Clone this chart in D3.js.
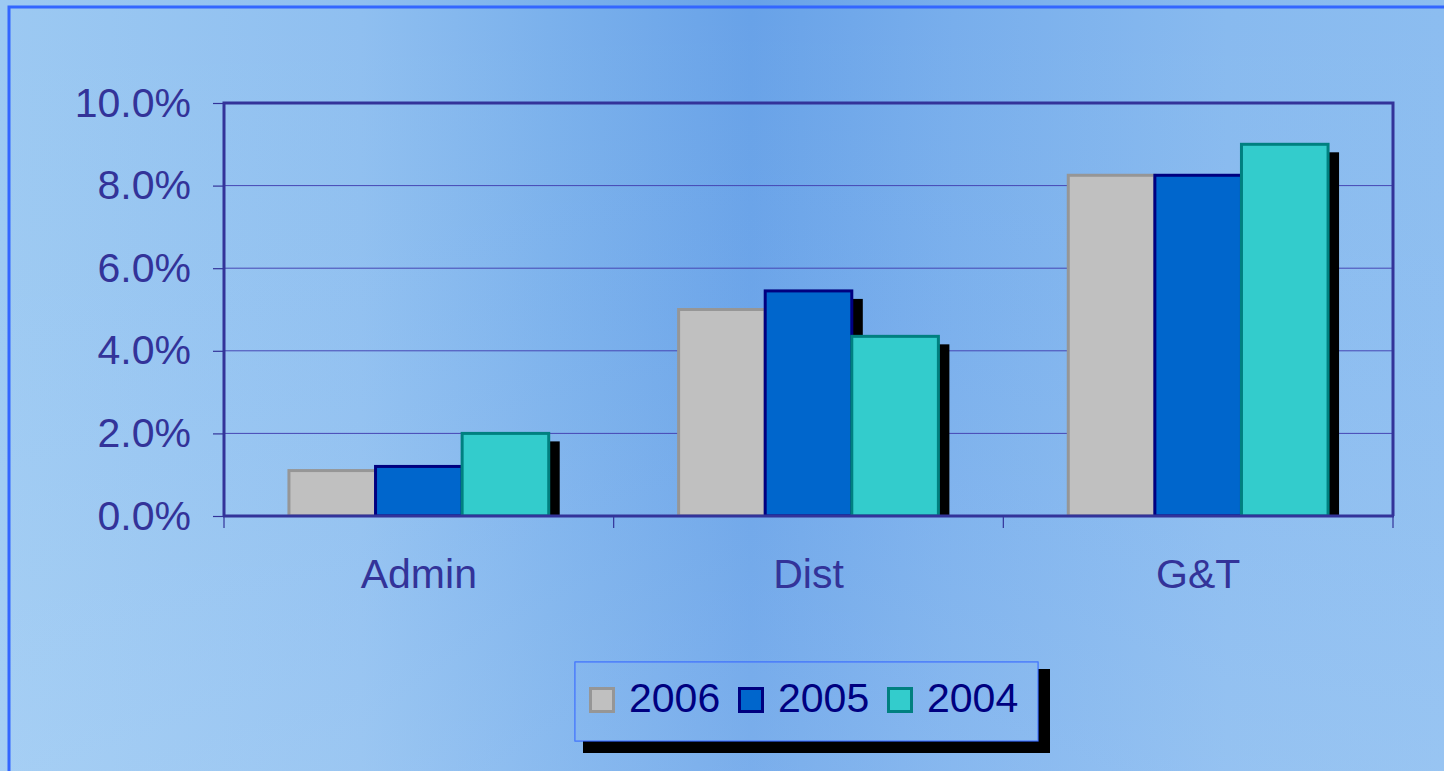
<!DOCTYPE html>
<html>
<head>
<meta charset="utf-8">
<script src="https://cdn.jsdelivr.net/npm/d3@7"></script>
<style>
  html, body { margin: 0; padding: 0; overflow: hidden; }
  svg { display: block; font-family: "Liberation Sans", Arial, sans-serif; }
</style>
</head>
<body>
<svg id="chart" width="1444" height="771"></svg>
<script>
const categories = ["Admin", "Dist", "G&T"];
const seriesNames = ["2006", "2005", "2004"];
const values2006 = [1.1, 5.0, 8.25];
const values2005 = [1.2, 5.45, 8.25];
const values2004 = [2.0, 4.35, 9.0];
const yTickValues = [0, 2, 4, 6, 8, 10];

const seriesValues = [values2006, values2005, values2004];
const fills = ["#C0C0C0", "#0066CC", "#33CCCC"];
const strokes = ["#969696", "#000080", "#008080"];

const W = 1444, H = 771;
const svg = d3.select("#chart");
const defs = svg.append("defs");

// Background gradient
const bg = defs.append("linearGradient").attr("id", "bg")
  .attr("gradientUnits", "userSpaceOnUse").attr("x1", 0).attr("y1", 0).attr("x2", W).attr("y2", 0);
[[0, "#9CC9F2"], [0.25, "#8FBFF0"], [0.38, "#7BB1EC"], [0.52, "#68A2E8"], [0.66, "#78AEEC"], [0.85, "#88BAEF"], [1, "#8CBDF0"]]
  .forEach(([o, c]) => bg.append("stop").attr("offset", o).attr("stop-color", c));
const shade = defs.append("linearGradient").attr("id", "shade")
  .attr("gradientUnits", "userSpaceOnUse").attr("x1", 0).attr("y1", 0).attr("x2", 0).attr("y2", H);
[[0, 0], [0.4, 0.04], [1, 0.16]].forEach(([o, a]) =>
  shade.append("stop").attr("offset", o).attr("stop-color", "#D8ECFF").attr("stop-opacity", a));

svg.append("rect").attr("width", W).attr("height", H).attr("fill", "url(#bg)");
svg.append("rect").attr("width", W).attr("height", H).attr("fill", "url(#shade)");

// Outer border (extends past right/bottom edge)
svg.append("rect").attr("x", 9).attr("y", 7).attr("width", W + 20).attr("height", H + 20)
  .attr("fill", "none").attr("stroke", "#3366FF").attr("stroke-width", 3);

const plot = { left: 224, right: 1393, top: 103, bottom: 516 };

const x0 = d3.scaleBand().domain(categories).range([plot.left, plot.right]).padding(0);
const x1 = d3.scaleBand().domain(seriesNames).range([0, x0.bandwidth()]).paddingInner(0).paddingOuter(0.75);
const y = d3.scaleLinear().domain([0, 10]).range([plot.bottom, plot.top]);

const textColor = "#333399";
const frameColor = "#333399";

// Gridlines
svg.append("g").selectAll("line").data(yTickValues.filter(v => v > 0 && v < 10)).join("line")
  .attr("x1", plot.left).attr("x2", plot.right)
  .attr("y1", d => y(d)).attr("y2", d => y(d))
  .attr("stroke", "#4646B4").attr("stroke-width", 1);

// Y axis
const yAxis = svg.append("g").attr("transform", `translate(${plot.left},0)`)
  .call(d3.axisLeft(y).tickValues(yTickValues).tickSize(11).tickPadding(22)
    .tickFormat(d => d.toFixed(1) + "%"));
yAxis.select(".domain").remove();
yAxis.selectAll(".tick line").attr("stroke", frameColor).attr("stroke-width", 1.2);
yAxis.selectAll(".tick text").attr("fill", textColor).attr("font-size", 41)
  .attr("font-family", "'Liberation Sans', Arial, sans-serif");

// Bars clip
defs.append("clipPath").attr("id", "plotclip").append("rect")
  .attr("x", plot.left).attr("y", plot.top - 20).attr("width", plot.right - plot.left + 20)
  .attr("height", plot.bottom - plot.top + 20);

const barData = [];
categories.forEach((c, ci) => seriesNames.forEach((s, si) =>
  barData.push({ cat: c, ser: s, si, v: seriesValues[si][ci] })));

const bars = svg.append("g").attr("clip-path", "url(#plotclip)");
// Shadows first
bars.append("g").selectAll("rect").data(barData).join("rect")
  .attr("x", d => x0(d.cat) + x1(d.ser) + 11)
  .attr("y", d => y(d.v) + 8)
  .attr("width", x1.bandwidth())
  .attr("height", d => y(0) - y(d.v))
  .attr("fill", "#000");
bars.append("g").selectAll("rect").data(barData).join("rect")
  .attr("x", d => x0(d.cat) + x1(d.ser))
  .attr("y", d => y(d.v))
  .attr("width", x1.bandwidth())
  .attr("height", d => y(0) - y(d.v))
  .attr("fill", d => fills[d.si])
  .attr("stroke", d => strokes[d.si])
  .attr("stroke-width", 3);

// Frame: left, top, right, bottom
const frame = svg.append("g").attr("stroke", frameColor).attr("stroke-width", 3).attr("fill", "none");
frame.append("path").attr("d",
  `M${plot.left},${plot.bottom}V${plot.top}H${plot.right}V${plot.bottom}`);
frame.append("line").attr("x1", plot.left - 1).attr("x2", plot.right + 1)
  .attr("y1", plot.bottom).attr("y2", plot.bottom);

// X tick marks at category boundaries
const xBounds = categories.map(c => x0(c)).concat([x0.range()[1]]);
svg.append("g").selectAll("line").data(xBounds).join("line")
  .attr("x1", d => d).attr("x2", d => d)
  .attr("y1", plot.bottom).attr("y2", plot.bottom + 12)
  .attr("stroke", frameColor).attr("stroke-width", 1.2);

// X labels
svg.append("g").selectAll("text").data(categories).join("text")
  .attr("x", d => x0(d) + x0.bandwidth() / 2)
  .attr("y", 588)
  .attr("text-anchor", "middle")
  .attr("font-size", 41)
  .attr("fill", textColor)
  .text(d => d);

// Legend
const lg = { x: 575, y: 662, w: 463, h: 79 };
svg.append("rect").attr("x", lg.x + 8).attr("y", lg.y + 7).attr("width", lg.w + 4).attr("height", lg.h + 5)
  .attr("fill", "#000");
svg.append("rect").attr("x", lg.x).attr("y", lg.y).attr("width", lg.w).attr("height", lg.h)
  .attr("fill", "url(#bg)").attr("stroke", "#3366FF").attr("stroke-width", 1.2);
svg.append("rect").attr("x", lg.x).attr("y", lg.y).attr("width", lg.w).attr("height", lg.h)
  .attr("fill", "url(#shade)");

const legendX = [589, 738, 887];
const items = svg.append("g").selectAll("g").data(seriesNames).join("g")
  .attr("transform", (d, i) => `translate(${legendX[i]},0)`);
items.append("rect").attr("x", 1.5).attr("y", 688.5).attr("width", 23).attr("height", 23)
  .attr("fill", (d, i) => fills[i]).attr("stroke", (d, i) => strokes[i]).attr("stroke-width", 3);
items.append("text").attr("x", 40).attr("y", 712)
  .attr("font-size", 41).attr("fill", "#000080").text(d => d);
</script>
</body>
</html>
